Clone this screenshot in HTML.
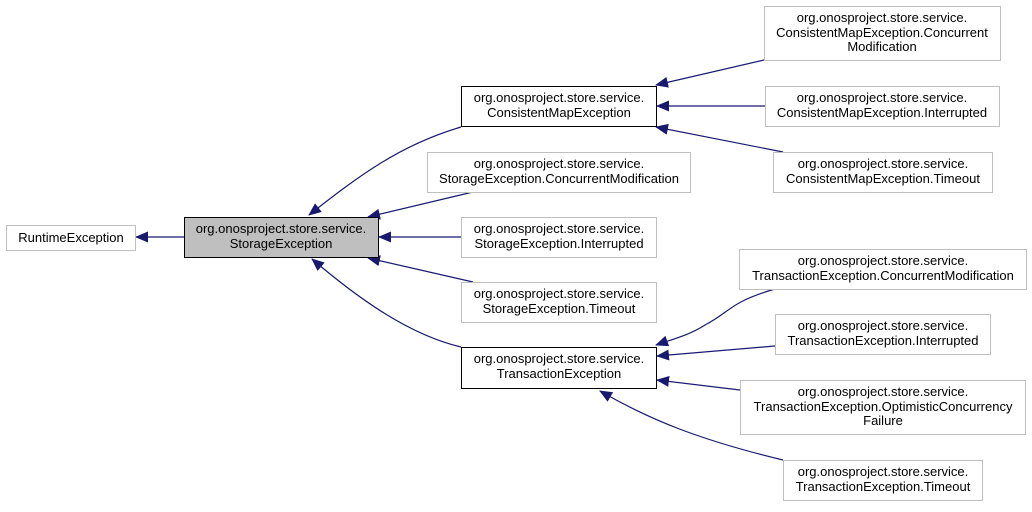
<!DOCTYPE html>
<html><head><meta charset="utf-8"><style>
html,body{margin:0;padding:0;background:#fff;}
svg text{font-family:"Liberation Sans",sans-serif;font-size:13px;fill:#000;}
</style></head><body>
<svg width="1032" height="507" viewBox="0 0 1032 507" xmlns="http://www.w3.org/2000/svg">
<defs>
<marker id="a" markerWidth="13" markerHeight="11" refX="12" refY="5.5" orient="auto" markerUnits="userSpaceOnUse">
<path d="M0,0 L13,5.5 L0,11 z" fill="#191970"/>
</marker>
</defs>
<g fill="none" stroke="#191970" stroke-width="1.2" marker-end="url(#a)">
<path d="M184,237 L136,237"/>
<path d="M461,127 C400,145 360,175 309,215"/>
<path d="M473,192 L368,217"/>
<path d="M461,237 L379,237"/>
<path d="M473,282 L368,258"/>
<path d="M461,347 C410,335 360,300 312,259"/>
<path d="M764,60 L656,85"/>
<path d="M765,106 L657,106"/>
<path d="M783,152 L656,127"/>
<path d="M775,289 C730,302 730,312 705,325 C690,335 670,340 656,345"/>
<path d="M775,346 L657,356"/>
<path d="M740,390 L657,380"/>
<path d="M783,460 C700,440 650,420 600,391"/>
</g>
<g stroke-width="1">
<rect x="6.5" y="225.5" width="129" height="25" fill="#fff" stroke="#bfbfbf"/>
<rect x="184.5" y="217.5" width="194" height="40" fill="#bfbfbf" stroke="#000"/>
<rect x="461.5" y="86.5" width="195" height="40" fill="#fff" stroke="#000"/>
<rect x="427.5" y="152.5" width="263" height="40" fill="#fff" stroke="#bfbfbf"/>
<rect x="461.5" y="217.5" width="195" height="40" fill="#fff" stroke="#bfbfbf"/>
<rect x="461.5" y="282.5" width="195" height="40" fill="#fff" stroke="#bfbfbf"/>
<rect x="461.5" y="347.5" width="195" height="41" fill="#fff" stroke="#000"/>
<rect x="764.5" y="6.5" width="236" height="54" fill="#fff" stroke="#bfbfbf"/>
<rect x="765.5" y="86.5" width="234" height="40" fill="#fff" stroke="#bfbfbf"/>
<rect x="773.5" y="152.5" width="219" height="40" fill="#fff" stroke="#bfbfbf"/>
<rect x="739.5" y="249.5" width="287" height="40" fill="#fff" stroke="#bfbfbf"/>
<rect x="775.5" y="314.5" width="215" height="40" fill="#fff" stroke="#bfbfbf"/>
<rect x="740.5" y="380.5" width="285" height="54" fill="#fff" stroke="#bfbfbf"/>
<rect x="783.5" y="460.5" width="199" height="40" fill="#fff" stroke="#bfbfbf"/>
</g>
<g text-anchor="middle">
<text x="71" y="242">RuntimeException</text>
<text x="281" y="233">org.onosproject.store.service.</text><text x="281" y="248">StorageException</text>
<text x="559" y="102">org.onosproject.store.service.</text><text x="559" y="117">ConsistentMapException</text>
<text x="559" y="168">org.onosproject.store.service.</text><text x="559" y="183">StorageException.ConcurrentModification</text>
<text x="559" y="233">org.onosproject.store.service.</text><text x="559" y="248">StorageException.Interrupted</text>
<text x="559" y="298">org.onosproject.store.service.</text><text x="559" y="313">StorageException.Timeout</text>
<text x="559" y="363">org.onosproject.store.service.</text><text x="559" y="378">TransactionException</text>
<text x="882" y="22">org.onosproject.store.service.</text><text x="882" y="37">ConsistentMapException.Concurrent</text><text x="882" y="51">Modification</text>
<text x="882" y="102">org.onosproject.store.service.</text><text x="882" y="117">ConsistentMapException.Interrupted</text>
<text x="883" y="168">org.onosproject.store.service.</text><text x="883" y="183">ConsistentMapException.Timeout</text>
<text x="883" y="265">org.onosproject.store.service.</text><text x="883" y="280">TransactionException.ConcurrentModification</text>
<text x="883" y="330">org.onosproject.store.service.</text><text x="883" y="345">TransactionException.Interrupted</text>
<text x="883" y="396">org.onosproject.store.service.</text><text x="883" y="411">TransactionException.OptimisticConcurrency</text><text x="883" y="425">Failure</text>
<text x="883" y="476">org.onosproject.store.service.</text><text x="883" y="491">TransactionException.Timeout</text>
</g>
</svg>
</body></html>
